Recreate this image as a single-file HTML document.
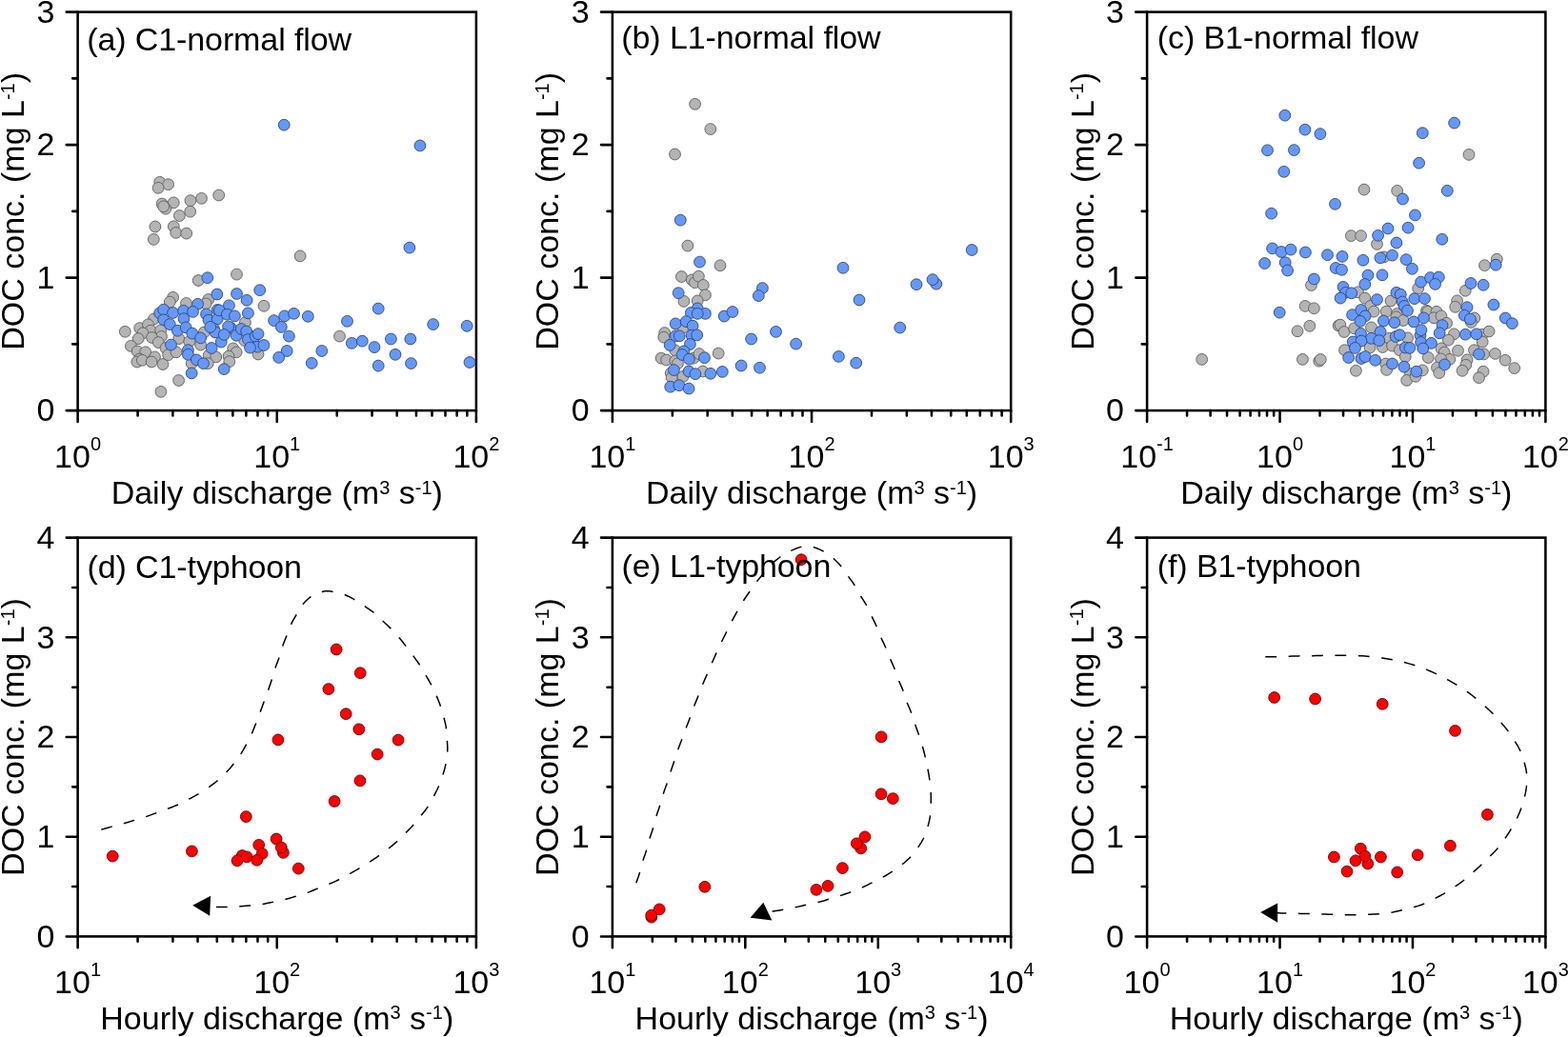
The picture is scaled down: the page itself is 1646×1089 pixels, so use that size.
<!DOCTYPE html>
<html><head><meta charset="utf-8"><title>DOC concentration vs discharge</title>
<style>
html,body{margin:0;padding:0;background:#fff;}
svg{display:block;}
text{font-family:"Liberation Sans",Arial,sans-serif;font-size:34px;fill:#000;}
</style></head><body>
<svg width="1646" height="1089" viewBox="0 0 1646 1089">
<rect width="1646" height="1089" fill="#fff"/>
<rect x="81.6" y="12.6" width="418.3" height="418.5" fill="none" stroke="#000" stroke-width="2.55"/>
<path d="M69.7,431.1H81.6M76.2,361.35H81.6M69.7,291.6H81.6M76.2,221.85H81.6M69.7,152.1H81.6M76.2,82.35H81.6M69.7,12.6H81.6M81.6,431.1V443M144.56,431.1V436.5M181.39,431.1V436.5M207.52,431.1V436.5M227.79,431.1V436.5M244.35,431.1V436.5M258.35,431.1V436.5M270.48,431.1V436.5M281.18,431.1V436.5M290.75,431.1V443M353.71,431.1V436.5M390.54,431.1V436.5M416.67,431.1V436.5M436.94,431.1V436.5M453.5,431.1V436.5M467.5,431.1V436.5M479.63,431.1V436.5M490.33,431.1V436.5M499.9,431.1V443" stroke="#000" stroke-width="2.55" fill="none" stroke-linecap="round"/>
<text x="57.3" y="442.4" text-anchor="end">0</text>
<text x="57.3" y="302.9" text-anchor="end">1</text>
<text x="57.3" y="163.4" text-anchor="end">2</text>
<text x="57.3" y="23.9" text-anchor="end">3</text>
<text x="81.6" y="490.7" text-anchor="middle">10<tspan font-size="20" dy="-17.6">0</tspan></text>
<text x="290.75" y="490.7" text-anchor="middle">10<tspan font-size="20" dy="-17.6">1</tspan></text>
<text x="499.9" y="490.7" text-anchor="middle">10<tspan font-size="20" dy="-17.6">2</tspan></text>
<text x="290.75" y="529.2" text-anchor="middle">Daily discharge (m<tspan font-size="20" dy="-10.6">3</tspan><tspan dy="10.6"> s</tspan><tspan font-size="20" dy="-10.6">-1</tspan><tspan dy="10.6">)</tspan></text>
<text transform="translate(25.1,221.85) rotate(-90)" x="0" y="0" text-anchor="middle">DOC conc. (mg L<tspan font-size="20" dy="-10.6">-1</tspan><tspan dy="10.6">)</tspan></text>
<rect x="642.9" y="12.6" width="418.3" height="418.5" fill="none" stroke="#000" stroke-width="2.55"/>
<path d="M631,431.1H642.9M637.5,361.35H642.9M631,291.6H642.9M637.5,221.85H642.9M631,152.1H642.9M637.5,82.35H642.9M631,12.6H642.9M642.9,431.1V443M705.86,431.1V436.5M742.69,431.1V436.5M768.82,431.1V436.5M789.09,431.1V436.5M805.65,431.1V436.5M819.65,431.1V436.5M831.78,431.1V436.5M842.48,431.1V436.5M852.05,431.1V443M915.01,431.1V436.5M951.84,431.1V436.5M977.97,431.1V436.5M998.24,431.1V436.5M1014.8,431.1V436.5M1028.8,431.1V436.5M1040.93,431.1V436.5M1051.63,431.1V436.5M1061.2,431.1V443" stroke="#000" stroke-width="2.55" fill="none" stroke-linecap="round"/>
<text x="618.6" y="442.4" text-anchor="end">0</text>
<text x="618.6" y="302.9" text-anchor="end">1</text>
<text x="618.6" y="163.4" text-anchor="end">2</text>
<text x="618.6" y="23.9" text-anchor="end">3</text>
<text x="642.9" y="490.7" text-anchor="middle">10<tspan font-size="20" dy="-17.6">1</tspan></text>
<text x="852.05" y="490.7" text-anchor="middle">10<tspan font-size="20" dy="-17.6">2</tspan></text>
<text x="1061.2" y="490.7" text-anchor="middle">10<tspan font-size="20" dy="-17.6">3</tspan></text>
<text x="852.05" y="529.2" text-anchor="middle">Daily discharge (m<tspan font-size="20" dy="-10.6">3</tspan><tspan dy="10.6"> s</tspan><tspan font-size="20" dy="-10.6">-1</tspan><tspan dy="10.6">)</tspan></text>
<text transform="translate(586.4,221.85) rotate(-90)" x="0" y="0" text-anchor="middle">DOC conc. (mg L<tspan font-size="20" dy="-10.6">-1</tspan><tspan dy="10.6">)</tspan></text>
<rect x="1204.1" y="12.6" width="418.3" height="418.5" fill="none" stroke="#000" stroke-width="2.55"/>
<path d="M1192.2,431.1H1204.1M1198.7,361.35H1204.1M1192.2,291.6H1204.1M1198.7,221.85H1204.1M1192.2,152.1H1204.1M1198.7,82.35H1204.1M1192.2,12.6H1204.1M1204.1,431.1V443M1246.07,431.1V436.5M1270.63,431.1V436.5M1288.05,431.1V436.5M1301.56,431.1V436.5M1312.6,431.1V436.5M1321.93,431.1V436.5M1330.02,431.1V436.5M1337.15,431.1V436.5M1343.53,431.1V443M1385.51,431.1V436.5M1410.06,431.1V436.5M1427.48,431.1V436.5M1440.99,431.1V436.5M1452.03,431.1V436.5M1461.37,431.1V436.5M1469.45,431.1V436.5M1476.59,431.1V436.5M1482.97,431.1V443M1524.94,431.1V436.5M1549.49,431.1V436.5M1566.91,431.1V436.5M1580.43,431.1V436.5M1591.47,431.1V436.5M1600.8,431.1V436.5M1608.89,431.1V436.5M1616.02,431.1V436.5M1622.4,431.1V443" stroke="#000" stroke-width="2.55" fill="none" stroke-linecap="round"/>
<text x="1179.8" y="442.4" text-anchor="end">0</text>
<text x="1179.8" y="302.9" text-anchor="end">1</text>
<text x="1179.8" y="163.4" text-anchor="end">2</text>
<text x="1179.8" y="23.9" text-anchor="end">3</text>
<text x="1204.1" y="490.7" text-anchor="middle">10<tspan font-size="20" dy="-17.6">-1</tspan></text>
<text x="1343.53" y="490.7" text-anchor="middle">10<tspan font-size="20" dy="-17.6">0</tspan></text>
<text x="1482.97" y="490.7" text-anchor="middle">10<tspan font-size="20" dy="-17.6">1</tspan></text>
<text x="1622.4" y="490.7" text-anchor="middle">10<tspan font-size="20" dy="-17.6">2</tspan></text>
<text x="1413.25" y="529.2" text-anchor="middle">Daily discharge (m<tspan font-size="20" dy="-10.6">3</tspan><tspan dy="10.6"> s</tspan><tspan font-size="20" dy="-10.6">-1</tspan><tspan dy="10.6">)</tspan></text>
<text transform="translate(1147.6,221.85) rotate(-90)" x="0" y="0" text-anchor="middle">DOC conc. (mg L<tspan font-size="20" dy="-10.6">-1</tspan><tspan dy="10.6">)</tspan></text>
<rect x="81.6" y="564.6" width="418.3" height="418.8" fill="none" stroke="#000" stroke-width="2.55"/>
<path d="M69.7,983.4H81.6M76.2,931.05H81.6M69.7,878.7H81.6M76.2,826.35H81.6M69.7,774H81.6M76.2,721.65H81.6M69.7,669.3H81.6M76.2,616.95H81.6M69.7,564.6H81.6M81.6,983.4V995.3M144.56,983.4V988.8M181.39,983.4V988.8M207.52,983.4V988.8M227.79,983.4V988.8M244.35,983.4V988.8M258.35,983.4V988.8M270.48,983.4V988.8M281.18,983.4V988.8M290.75,983.4V995.3M353.71,983.4V988.8M390.54,983.4V988.8M416.67,983.4V988.8M436.94,983.4V988.8M453.5,983.4V988.8M467.5,983.4V988.8M479.63,983.4V988.8M490.33,983.4V988.8M499.9,983.4V995.3" stroke="#000" stroke-width="2.55" fill="none" stroke-linecap="round"/>
<text x="57.3" y="994.7" text-anchor="end">0</text>
<text x="57.3" y="890" text-anchor="end">1</text>
<text x="57.3" y="785.3" text-anchor="end">2</text>
<text x="57.3" y="680.6" text-anchor="end">3</text>
<text x="57.3" y="575.9" text-anchor="end">4</text>
<text x="81.6" y="1043" text-anchor="middle">10<tspan font-size="20" dy="-17.6">1</tspan></text>
<text x="290.75" y="1043" text-anchor="middle">10<tspan font-size="20" dy="-17.6">2</tspan></text>
<text x="499.9" y="1043" text-anchor="middle">10<tspan font-size="20" dy="-17.6">3</tspan></text>
<text x="290.75" y="1080.8" text-anchor="middle">Hourly discharge (m<tspan font-size="20" dy="-10.6">3</tspan><tspan dy="10.6"> s</tspan><tspan font-size="20" dy="-10.6">-1</tspan><tspan dy="10.6">)</tspan></text>
<text transform="translate(25.1,774) rotate(-90)" x="0" y="0" text-anchor="middle">DOC conc. (mg L<tspan font-size="20" dy="-10.6">-1</tspan><tspan dy="10.6">)</tspan></text>
<rect x="642.9" y="564.6" width="418.3" height="418.8" fill="none" stroke="#000" stroke-width="2.55"/>
<path d="M631,983.4H642.9M637.5,931.05H642.9M631,878.7H642.9M637.5,826.35H642.9M631,774H642.9M637.5,721.65H642.9M631,669.3H642.9M637.5,616.95H642.9M631,564.6H642.9M642.9,983.4V995.3M684.87,983.4V988.8M709.43,983.4V988.8M726.85,983.4V988.8M740.36,983.4V988.8M751.4,983.4V988.8M760.73,983.4V988.8M768.82,983.4V988.8M775.95,983.4V988.8M782.33,983.4V995.3M824.31,983.4V988.8M848.86,983.4V988.8M866.28,983.4V988.8M879.79,983.4V988.8M890.83,983.4V988.8M900.17,983.4V988.8M908.25,983.4V988.8M915.39,983.4V988.8M921.77,983.4V995.3M963.74,983.4V988.8M988.29,983.4V988.8M1005.71,983.4V988.8M1019.23,983.4V988.8M1030.27,983.4V988.8M1039.6,983.4V988.8M1047.69,983.4V988.8M1054.82,983.4V988.8M1061.2,983.4V995.3" stroke="#000" stroke-width="2.55" fill="none" stroke-linecap="round"/>
<text x="618.6" y="994.7" text-anchor="end">0</text>
<text x="618.6" y="890" text-anchor="end">1</text>
<text x="618.6" y="785.3" text-anchor="end">2</text>
<text x="618.6" y="680.6" text-anchor="end">3</text>
<text x="618.6" y="575.9" text-anchor="end">4</text>
<text x="642.9" y="1043" text-anchor="middle">10<tspan font-size="20" dy="-17.6">1</tspan></text>
<text x="782.33" y="1043" text-anchor="middle">10<tspan font-size="20" dy="-17.6">2</tspan></text>
<text x="921.77" y="1043" text-anchor="middle">10<tspan font-size="20" dy="-17.6">3</tspan></text>
<text x="1061.2" y="1043" text-anchor="middle">10<tspan font-size="20" dy="-17.6">4</tspan></text>
<text x="852.05" y="1080.8" text-anchor="middle">Hourly discharge (m<tspan font-size="20" dy="-10.6">3</tspan><tspan dy="10.6"> s</tspan><tspan font-size="20" dy="-10.6">-1</tspan><tspan dy="10.6">)</tspan></text>
<text transform="translate(586.4,774) rotate(-90)" x="0" y="0" text-anchor="middle">DOC conc. (mg L<tspan font-size="20" dy="-10.6">-1</tspan><tspan dy="10.6">)</tspan></text>
<rect x="1204.1" y="564.6" width="418.3" height="418.8" fill="none" stroke="#000" stroke-width="2.55"/>
<path d="M1192.2,983.4H1204.1M1198.7,931.05H1204.1M1192.2,878.7H1204.1M1198.7,826.35H1204.1M1192.2,774H1204.1M1198.7,721.65H1204.1M1192.2,669.3H1204.1M1198.7,616.95H1204.1M1192.2,564.6H1204.1M1204.1,983.4V995.3M1246.07,983.4V988.8M1270.63,983.4V988.8M1288.05,983.4V988.8M1301.56,983.4V988.8M1312.6,983.4V988.8M1321.93,983.4V988.8M1330.02,983.4V988.8M1337.15,983.4V988.8M1343.53,983.4V995.3M1385.51,983.4V988.8M1410.06,983.4V988.8M1427.48,983.4V988.8M1440.99,983.4V988.8M1452.03,983.4V988.8M1461.37,983.4V988.8M1469.45,983.4V988.8M1476.59,983.4V988.8M1482.97,983.4V995.3M1524.94,983.4V988.8M1549.49,983.4V988.8M1566.91,983.4V988.8M1580.43,983.4V988.8M1591.47,983.4V988.8M1600.8,983.4V988.8M1608.89,983.4V988.8M1616.02,983.4V988.8M1622.4,983.4V995.3" stroke="#000" stroke-width="2.55" fill="none" stroke-linecap="round"/>
<text x="1179.8" y="994.7" text-anchor="end">0</text>
<text x="1179.8" y="890" text-anchor="end">1</text>
<text x="1179.8" y="785.3" text-anchor="end">2</text>
<text x="1179.8" y="680.6" text-anchor="end">3</text>
<text x="1179.8" y="575.9" text-anchor="end">4</text>
<text x="1204.1" y="1043" text-anchor="middle">10<tspan font-size="20" dy="-17.6">0</tspan></text>
<text x="1343.53" y="1043" text-anchor="middle">10<tspan font-size="20" dy="-17.6">1</tspan></text>
<text x="1482.97" y="1043" text-anchor="middle">10<tspan font-size="20" dy="-17.6">2</tspan></text>
<text x="1622.4" y="1043" text-anchor="middle">10<tspan font-size="20" dy="-17.6">3</tspan></text>
<text x="1413.25" y="1080.8" text-anchor="middle">Hourly discharge (m<tspan font-size="20" dy="-10.6">3</tspan><tspan dy="10.6"> s</tspan><tspan font-size="20" dy="-10.6">-1</tspan><tspan dy="10.6">)</tspan></text>
<text transform="translate(1147.6,774) rotate(-90)" x="0" y="0" text-anchor="middle">DOC conc. (mg L<tspan font-size="20" dy="-10.6">-1</tspan><tspan dy="10.6">)</tspan></text>
<circle cx="167.7" cy="191.3" r="5.9" fill="#b4b4b4" stroke="#5e5e5e" stroke-width="0.9"/>
<circle cx="176.6" cy="193.7" r="5.9" fill="#b4b4b4" stroke="#5e5e5e" stroke-width="0.9"/>
<circle cx="166.1" cy="197.3" r="5.9" fill="#b4b4b4" stroke="#5e5e5e" stroke-width="0.9"/>
<circle cx="229.7" cy="205" r="5.9" fill="#b4b4b4" stroke="#5e5e5e" stroke-width="0.9"/>
<circle cx="211.5" cy="208.3" r="5.9" fill="#b4b4b4" stroke="#5e5e5e" stroke-width="0.9"/>
<circle cx="199.9" cy="210.7" r="5.9" fill="#b4b4b4" stroke="#5e5e5e" stroke-width="0.9"/>
<circle cx="182.3" cy="212.8" r="5.9" fill="#b4b4b4" stroke="#5e5e5e" stroke-width="0.9"/>
<circle cx="170.1" cy="214" r="5.9" fill="#b4b4b4" stroke="#5e5e5e" stroke-width="0.9"/>
<circle cx="173.8" cy="219.2" r="5.9" fill="#b4b4b4" stroke="#5e5e5e" stroke-width="0.9"/>
<circle cx="171.7" cy="216.8" r="5.9" fill="#b4b4b4" stroke="#5e5e5e" stroke-width="0.9"/>
<circle cx="199.7" cy="222.2" r="5.9" fill="#b4b4b4" stroke="#5e5e5e" stroke-width="0.9"/>
<circle cx="188.4" cy="226.5" r="5.9" fill="#b4b4b4" stroke="#5e5e5e" stroke-width="0.9"/>
<circle cx="162.9" cy="238" r="5.9" fill="#b4b4b4" stroke="#5e5e5e" stroke-width="0.9"/>
<circle cx="182.3" cy="237.8" r="5.9" fill="#b4b4b4" stroke="#5e5e5e" stroke-width="0.9"/>
<circle cx="184.7" cy="244.4" r="5.9" fill="#b4b4b4" stroke="#5e5e5e" stroke-width="0.9"/>
<circle cx="195.7" cy="245.1" r="5.9" fill="#b4b4b4" stroke="#5e5e5e" stroke-width="0.9"/>
<circle cx="161.3" cy="251.4" r="5.9" fill="#b4b4b4" stroke="#5e5e5e" stroke-width="0.9"/>
<circle cx="248.5" cy="288.1" r="5.9" fill="#b4b4b4" stroke="#5e5e5e" stroke-width="0.9"/>
<circle cx="208.2" cy="294.5" r="5.9" fill="#b4b4b4" stroke="#5e5e5e" stroke-width="0.9"/>
<circle cx="315.1" cy="268.9" r="5.9" fill="#b4b4b4" stroke="#5e5e5e" stroke-width="0.9"/>
<circle cx="181.6" cy="312.3" r="5.9" fill="#b4b4b4" stroke="#5e5e5e" stroke-width="0.9"/>
<circle cx="178.3" cy="317.1" r="5.9" fill="#b4b4b4" stroke="#5e5e5e" stroke-width="0.9"/>
<circle cx="195.5" cy="318.5" r="5.9" fill="#b4b4b4" stroke="#5e5e5e" stroke-width="0.9"/>
<circle cx="218.7" cy="314.5" r="5.9" fill="#b4b4b4" stroke="#5e5e5e" stroke-width="0.9"/>
<circle cx="216.1" cy="318.9" r="5.9" fill="#b4b4b4" stroke="#5e5e5e" stroke-width="0.9"/>
<circle cx="161.4" cy="335.1" r="5.9" fill="#b4b4b4" stroke="#5e5e5e" stroke-width="0.9"/>
<circle cx="131.3" cy="348.3" r="5.9" fill="#b4b4b4" stroke="#5e5e5e" stroke-width="0.9"/>
<circle cx="146.7" cy="344.6" r="5.9" fill="#b4b4b4" stroke="#5e5e5e" stroke-width="0.9"/>
<circle cx="155.5" cy="340.9" r="5.9" fill="#b4b4b4" stroke="#5e5e5e" stroke-width="0.9"/>
<circle cx="158.1" cy="347.2" r="5.9" fill="#b4b4b4" stroke="#5e5e5e" stroke-width="0.9"/>
<circle cx="168.7" cy="346.8" r="5.9" fill="#b4b4b4" stroke="#5e5e5e" stroke-width="0.9"/>
<circle cx="150" cy="349.8" r="5.9" fill="#b4b4b4" stroke="#5e5e5e" stroke-width="0.9"/>
<circle cx="145.2" cy="355.6" r="5.9" fill="#b4b4b4" stroke="#5e5e5e" stroke-width="0.9"/>
<circle cx="169.5" cy="353.4" r="5.9" fill="#b4b4b4" stroke="#5e5e5e" stroke-width="0.9"/>
<circle cx="214.3" cy="349" r="5.9" fill="#b4b4b4" stroke="#5e5e5e" stroke-width="0.9"/>
<circle cx="187.8" cy="355.6" r="5.9" fill="#b4b4b4" stroke="#5e5e5e" stroke-width="0.9"/>
<circle cx="137.4" cy="363.4" r="5.9" fill="#b4b4b4" stroke="#5e5e5e" stroke-width="0.9"/>
<circle cx="144.2" cy="368.9" r="5.9" fill="#b4b4b4" stroke="#5e5e5e" stroke-width="0.9"/>
<circle cx="152.7" cy="369.8" r="5.9" fill="#b4b4b4" stroke="#5e5e5e" stroke-width="0.9"/>
<circle cx="146.4" cy="377" r="5.9" fill="#b4b4b4" stroke="#5e5e5e" stroke-width="0.9"/>
<circle cx="143.8" cy="380" r="5.9" fill="#b4b4b4" stroke="#5e5e5e" stroke-width="0.9"/>
<circle cx="149.3" cy="378.3" r="5.9" fill="#b4b4b4" stroke="#5e5e5e" stroke-width="0.9"/>
<circle cx="162.5" cy="374.9" r="5.9" fill="#b4b4b4" stroke="#5e5e5e" stroke-width="0.9"/>
<circle cx="159.1" cy="380" r="5.9" fill="#b4b4b4" stroke="#5e5e5e" stroke-width="0.9"/>
<circle cx="171" cy="382.5" r="5.9" fill="#b4b4b4" stroke="#5e5e5e" stroke-width="0.9"/>
<circle cx="159.5" cy="354.5" r="5.9" fill="#b4b4b4" stroke="#5e5e5e" stroke-width="0.9"/>
<circle cx="166.3" cy="359.6" r="5.9" fill="#b4b4b4" stroke="#5e5e5e" stroke-width="0.9"/>
<circle cx="174" cy="365.5" r="5.9" fill="#b4b4b4" stroke="#5e5e5e" stroke-width="0.9"/>
<circle cx="176.6" cy="372.7" r="5.9" fill="#b4b4b4" stroke="#5e5e5e" stroke-width="0.9"/>
<circle cx="185" cy="369.8" r="5.9" fill="#b4b4b4" stroke="#5e5e5e" stroke-width="0.9"/>
<circle cx="198.7" cy="358.7" r="5.9" fill="#b4b4b4" stroke="#5e5e5e" stroke-width="0.9"/>
<circle cx="210.6" cy="362.1" r="5.9" fill="#b4b4b4" stroke="#5e5e5e" stroke-width="0.9"/>
<circle cx="219.1" cy="373.2" r="5.9" fill="#b4b4b4" stroke="#5e5e5e" stroke-width="0.9"/>
<circle cx="226.7" cy="374.9" r="5.9" fill="#b4b4b4" stroke="#5e5e5e" stroke-width="0.9"/>
<circle cx="218.2" cy="381.7" r="5.9" fill="#b4b4b4" stroke="#5e5e5e" stroke-width="0.9"/>
<circle cx="201.2" cy="381.7" r="5.9" fill="#b4b4b4" stroke="#5e5e5e" stroke-width="0.9"/>
<circle cx="187.6" cy="399.5" r="5.9" fill="#b4b4b4" stroke="#5e5e5e" stroke-width="0.9"/>
<circle cx="168.9" cy="411.4" r="5.9" fill="#b4b4b4" stroke="#5e5e5e" stroke-width="0.9"/>
<circle cx="277" cy="321.3" r="5.9" fill="#b4b4b4" stroke="#5e5e5e" stroke-width="0.9"/>
<circle cx="257.4" cy="338.7" r="5.9" fill="#b4b4b4" stroke="#5e5e5e" stroke-width="0.9"/>
<circle cx="244.7" cy="365.9" r="5.9" fill="#b4b4b4" stroke="#5e5e5e" stroke-width="0.9"/>
<circle cx="256.6" cy="357.4" r="5.9" fill="#b4b4b4" stroke="#5e5e5e" stroke-width="0.9"/>
<circle cx="356.5" cy="353.1" r="5.9" fill="#b4b4b4" stroke="#5e5e5e" stroke-width="0.9"/>
<circle cx="248.1" cy="369.9" r="5.9" fill="#b4b4b4" stroke="#5e5e5e" stroke-width="0.9"/>
<circle cx="240" cy="374.1" r="5.9" fill="#b4b4b4" stroke="#5e5e5e" stroke-width="0.9"/>
<circle cx="240.8" cy="379.7" r="5.9" fill="#b4b4b4" stroke="#5e5e5e" stroke-width="0.9"/>
<circle cx="271" cy="372" r="5.9" fill="#b4b4b4" stroke="#5e5e5e" stroke-width="0.9"/>
<circle cx="217.8" cy="291.7" r="5.9" fill="#6498fc" stroke="#34466e" stroke-width="0.9"/>
<circle cx="227.8" cy="309" r="5.9" fill="#6498fc" stroke="#34466e" stroke-width="0.9"/>
<circle cx="207.6" cy="319.3" r="5.9" fill="#6498fc" stroke="#34466e" stroke-width="0.9"/>
<circle cx="167.6" cy="328.8" r="5.9" fill="#6498fc" stroke="#34466e" stroke-width="0.9"/>
<circle cx="171.7" cy="325.2" r="5.9" fill="#6498fc" stroke="#34466e" stroke-width="0.9"/>
<circle cx="181.6" cy="328.5" r="5.9" fill="#6498fc" stroke="#34466e" stroke-width="0.9"/>
<circle cx="192.6" cy="326.3" r="5.9" fill="#6498fc" stroke="#34466e" stroke-width="0.9"/>
<circle cx="202.5" cy="327.4" r="5.9" fill="#6498fc" stroke="#34466e" stroke-width="0.9"/>
<circle cx="193" cy="334.7" r="5.9" fill="#6498fc" stroke="#34466e" stroke-width="0.9"/>
<circle cx="216.5" cy="329.9" r="5.9" fill="#6498fc" stroke="#34466e" stroke-width="0.9"/>
<circle cx="219" cy="336.2" r="5.9" fill="#6498fc" stroke="#34466e" stroke-width="0.9"/>
<circle cx="228.2" cy="325.5" r="5.9" fill="#6498fc" stroke="#34466e" stroke-width="0.9"/>
<circle cx="228.2" cy="335.1" r="5.9" fill="#6498fc" stroke="#34466e" stroke-width="0.9"/>
<circle cx="171.7" cy="335.8" r="5.9" fill="#6498fc" stroke="#34466e" stroke-width="0.9"/>
<circle cx="178.3" cy="340.6" r="5.9" fill="#6498fc" stroke="#34466e" stroke-width="0.9"/>
<circle cx="186.4" cy="347.2" r="5.9" fill="#6498fc" stroke="#34466e" stroke-width="0.9"/>
<circle cx="195.2" cy="343.9" r="5.9" fill="#6498fc" stroke="#34466e" stroke-width="0.9"/>
<circle cx="201.8" cy="350.1" r="5.9" fill="#6498fc" stroke="#34466e" stroke-width="0.9"/>
<circle cx="210.6" cy="354.9" r="5.9" fill="#6498fc" stroke="#34466e" stroke-width="0.9"/>
<circle cx="224.5" cy="345.3" r="5.9" fill="#6498fc" stroke="#34466e" stroke-width="0.9"/>
<circle cx="226" cy="349" r="5.9" fill="#6498fc" stroke="#34466e" stroke-width="0.9"/>
<circle cx="179.5" cy="362.1" r="5.9" fill="#6498fc" stroke="#34466e" stroke-width="0.9"/>
<circle cx="197.4" cy="367.6" r="5.9" fill="#6498fc" stroke="#34466e" stroke-width="0.9"/>
<circle cx="197.4" cy="372.3" r="5.9" fill="#6498fc" stroke="#34466e" stroke-width="0.9"/>
<circle cx="206.3" cy="377.9" r="5.9" fill="#6498fc" stroke="#34466e" stroke-width="0.9"/>
<circle cx="213.5" cy="381.7" r="5.9" fill="#6498fc" stroke="#34466e" stroke-width="0.9"/>
<circle cx="201.2" cy="391.9" r="5.9" fill="#6498fc" stroke="#34466e" stroke-width="0.9"/>
<circle cx="222.1" cy="365.5" r="5.9" fill="#6498fc" stroke="#34466e" stroke-width="0.9"/>
<circle cx="232.3" cy="359.1" r="5.9" fill="#6498fc" stroke="#34466e" stroke-width="0.9"/>
<circle cx="235.2" cy="387.6" r="5.9" fill="#6498fc" stroke="#34466e" stroke-width="0.9"/>
<circle cx="220.8" cy="343.4" r="5.9" fill="#6498fc" stroke="#34466e" stroke-width="0.9"/>
<circle cx="298.2" cy="131.2" r="5.9" fill="#6498fc" stroke="#34466e" stroke-width="0.9"/>
<circle cx="440.9" cy="152.9" r="5.9" fill="#6498fc" stroke="#34466e" stroke-width="0.9"/>
<circle cx="429.9" cy="260.1" r="5.9" fill="#6498fc" stroke="#34466e" stroke-width="0.9"/>
<circle cx="248.5" cy="308.5" r="5.9" fill="#6498fc" stroke="#34466e" stroke-width="0.9"/>
<circle cx="272.7" cy="304.7" r="5.9" fill="#6498fc" stroke="#34466e" stroke-width="0.9"/>
<circle cx="259.1" cy="315.3" r="5.9" fill="#6498fc" stroke="#34466e" stroke-width="0.9"/>
<circle cx="240.4" cy="320.8" r="5.9" fill="#6498fc" stroke="#34466e" stroke-width="0.9"/>
<circle cx="230.2" cy="325.9" r="5.9" fill="#6498fc" stroke="#34466e" stroke-width="0.9"/>
<circle cx="238.3" cy="330.2" r="5.9" fill="#6498fc" stroke="#34466e" stroke-width="0.9"/>
<circle cx="246.4" cy="331.9" r="5.9" fill="#6498fc" stroke="#34466e" stroke-width="0.9"/>
<circle cx="260.4" cy="328.9" r="5.9" fill="#6498fc" stroke="#34466e" stroke-width="0.9"/>
<circle cx="242.1" cy="344.2" r="5.9" fill="#6498fc" stroke="#34466e" stroke-width="0.9"/>
<circle cx="239.6" cy="342.9" r="5.9" fill="#6498fc" stroke="#34466e" stroke-width="0.9"/>
<circle cx="235.3" cy="351.4" r="5.9" fill="#6498fc" stroke="#34466e" stroke-width="0.9"/>
<circle cx="248.1" cy="352.3" r="5.9" fill="#6498fc" stroke="#34466e" stroke-width="0.9"/>
<circle cx="253.2" cy="345.5" r="5.9" fill="#6498fc" stroke="#34466e" stroke-width="0.9"/>
<circle cx="258.7" cy="348" r="5.9" fill="#6498fc" stroke="#34466e" stroke-width="0.9"/>
<circle cx="260.4" cy="356.5" r="5.9" fill="#6498fc" stroke="#34466e" stroke-width="0.9"/>
<circle cx="268.1" cy="353.1" r="5.9" fill="#6498fc" stroke="#34466e" stroke-width="0.9"/>
<circle cx="271" cy="350.6" r="5.9" fill="#6498fc" stroke="#34466e" stroke-width="0.9"/>
<circle cx="270.2" cy="364.2" r="5.9" fill="#6498fc" stroke="#34466e" stroke-width="0.9"/>
<circle cx="277" cy="362.5" r="5.9" fill="#6498fc" stroke="#34466e" stroke-width="0.9"/>
<circle cx="262.5" cy="365.1" r="5.9" fill="#6498fc" stroke="#34466e" stroke-width="0.9"/>
<circle cx="287.6" cy="336.6" r="5.9" fill="#6498fc" stroke="#34466e" stroke-width="0.9"/>
<circle cx="298.7" cy="331.9" r="5.9" fill="#6498fc" stroke="#34466e" stroke-width="0.9"/>
<circle cx="308.5" cy="329.3" r="5.9" fill="#6498fc" stroke="#34466e" stroke-width="0.9"/>
<circle cx="323.3" cy="332.3" r="5.9" fill="#6498fc" stroke="#34466e" stroke-width="0.9"/>
<circle cx="295.3" cy="343.4" r="5.9" fill="#6498fc" stroke="#34466e" stroke-width="0.9"/>
<circle cx="303.4" cy="353.1" r="5.9" fill="#6498fc" stroke="#34466e" stroke-width="0.9"/>
<circle cx="301.2" cy="368.5" r="5.9" fill="#6498fc" stroke="#34466e" stroke-width="0.9"/>
<circle cx="337.8" cy="368.5" r="5.9" fill="#6498fc" stroke="#34466e" stroke-width="0.9"/>
<circle cx="292.7" cy="375.4" r="5.9" fill="#6498fc" stroke="#34466e" stroke-width="0.9"/>
<circle cx="327.2" cy="381.4" r="5.9" fill="#6498fc" stroke="#34466e" stroke-width="0.9"/>
<circle cx="397.2" cy="324.1" r="5.9" fill="#6498fc" stroke="#34466e" stroke-width="0.9"/>
<circle cx="364.5" cy="337.3" r="5.9" fill="#6498fc" stroke="#34466e" stroke-width="0.9"/>
<circle cx="369.3" cy="360.4" r="5.9" fill="#6498fc" stroke="#34466e" stroke-width="0.9"/>
<circle cx="380.3" cy="358.2" r="5.9" fill="#6498fc" stroke="#34466e" stroke-width="0.9"/>
<circle cx="393" cy="364.6" r="5.9" fill="#6498fc" stroke="#34466e" stroke-width="0.9"/>
<circle cx="410.4" cy="356" r="5.9" fill="#6498fc" stroke="#34466e" stroke-width="0.9"/>
<circle cx="430.8" cy="356" r="5.9" fill="#6498fc" stroke="#34466e" stroke-width="0.9"/>
<circle cx="415" cy="372.3" r="5.9" fill="#6498fc" stroke="#34466e" stroke-width="0.9"/>
<circle cx="397.2" cy="384.1" r="5.9" fill="#6498fc" stroke="#34466e" stroke-width="0.9"/>
<circle cx="431.5" cy="381.6" r="5.9" fill="#6498fc" stroke="#34466e" stroke-width="0.9"/>
<circle cx="454.7" cy="340.6" r="5.9" fill="#6498fc" stroke="#34466e" stroke-width="0.9"/>
<circle cx="490.2" cy="342.3" r="5.9" fill="#6498fc" stroke="#34466e" stroke-width="0.9"/>
<circle cx="493" cy="380.5" r="5.9" fill="#6498fc" stroke="#34466e" stroke-width="0.9"/>
<circle cx="729.6" cy="109.3" r="5.9" fill="#b4b4b4" stroke="#5e5e5e" stroke-width="0.9"/>
<circle cx="745.8" cy="135.6" r="5.9" fill="#b4b4b4" stroke="#5e5e5e" stroke-width="0.9"/>
<circle cx="708.5" cy="162" r="5.9" fill="#b4b4b4" stroke="#5e5e5e" stroke-width="0.9"/>
<circle cx="721.9" cy="258.1" r="5.9" fill="#b4b4b4" stroke="#5e5e5e" stroke-width="0.9"/>
<circle cx="756" cy="278.8" r="5.9" fill="#b4b4b4" stroke="#5e5e5e" stroke-width="0.9"/>
<circle cx="715.4" cy="290.5" r="5.9" fill="#b4b4b4" stroke="#5e5e5e" stroke-width="0.9"/>
<circle cx="726.2" cy="293.9" r="5.9" fill="#b4b4b4" stroke="#5e5e5e" stroke-width="0.9"/>
<circle cx="729.4" cy="296.7" r="5.9" fill="#b4b4b4" stroke="#5e5e5e" stroke-width="0.9"/>
<circle cx="733.4" cy="290.2" r="5.9" fill="#b4b4b4" stroke="#5e5e5e" stroke-width="0.9"/>
<circle cx="738.3" cy="299.4" r="5.9" fill="#b4b4b4" stroke="#5e5e5e" stroke-width="0.9"/>
<circle cx="740.4" cy="309.8" r="5.9" fill="#b4b4b4" stroke="#5e5e5e" stroke-width="0.9"/>
<circle cx="717.9" cy="316.4" r="5.9" fill="#b4b4b4" stroke="#5e5e5e" stroke-width="0.9"/>
<circle cx="732.2" cy="315.9" r="5.9" fill="#b4b4b4" stroke="#5e5e5e" stroke-width="0.9"/>
<circle cx="717" cy="344.1" r="5.9" fill="#b4b4b4" stroke="#5e5e5e" stroke-width="0.9"/>
<circle cx="697.7" cy="349.6" r="5.9" fill="#b4b4b4" stroke="#5e5e5e" stroke-width="0.9"/>
<circle cx="696.8" cy="354.2" r="5.9" fill="#b4b4b4" stroke="#5e5e5e" stroke-width="0.9"/>
<circle cx="708.8" cy="367.9" r="5.9" fill="#b4b4b4" stroke="#5e5e5e" stroke-width="0.9"/>
<circle cx="728" cy="376.2" r="5.9" fill="#b4b4b4" stroke="#5e5e5e" stroke-width="0.9"/>
<circle cx="734" cy="371.6" r="5.9" fill="#b4b4b4" stroke="#5e5e5e" stroke-width="0.9"/>
<circle cx="694.1" cy="376.2" r="5.9" fill="#b4b4b4" stroke="#5e5e5e" stroke-width="0.9"/>
<circle cx="699.6" cy="378" r="5.9" fill="#b4b4b4" stroke="#5e5e5e" stroke-width="0.9"/>
<circle cx="708.8" cy="378.9" r="5.9" fill="#b4b4b4" stroke="#5e5e5e" stroke-width="0.9"/>
<circle cx="711.5" cy="381.7" r="5.9" fill="#b4b4b4" stroke="#5e5e5e" stroke-width="0.9"/>
<circle cx="754.2" cy="371.1" r="5.9" fill="#b4b4b4" stroke="#5e5e5e" stroke-width="0.9"/>
<circle cx="704.2" cy="391.8" r="5.9" fill="#b4b4b4" stroke="#5e5e5e" stroke-width="0.9"/>
<circle cx="737.7" cy="390" r="5.9" fill="#b4b4b4" stroke="#5e5e5e" stroke-width="0.9"/>
<circle cx="717" cy="395.5" r="5.9" fill="#b4b4b4" stroke="#5e5e5e" stroke-width="0.9"/>
<circle cx="705.1" cy="396.5" r="5.9" fill="#b4b4b4" stroke="#5e5e5e" stroke-width="0.9"/>
<circle cx="714.3" cy="231.2" r="5.9" fill="#6498fc" stroke="#34466e" stroke-width="0.9"/>
<circle cx="734.5" cy="275.1" r="5.9" fill="#6498fc" stroke="#34466e" stroke-width="0.9"/>
<circle cx="712.2" cy="307.7" r="5.9" fill="#6498fc" stroke="#34466e" stroke-width="0.9"/>
<circle cx="732.2" cy="323.9" r="5.9" fill="#6498fc" stroke="#34466e" stroke-width="0.9"/>
<circle cx="740.4" cy="329.4" r="5.9" fill="#6498fc" stroke="#34466e" stroke-width="0.9"/>
<circle cx="725.3" cy="328.5" r="5.9" fill="#6498fc" stroke="#34466e" stroke-width="0.9"/>
<circle cx="732.2" cy="329.4" r="5.9" fill="#6498fc" stroke="#34466e" stroke-width="0.9"/>
<circle cx="709.2" cy="339.9" r="5.9" fill="#6498fc" stroke="#34466e" stroke-width="0.9"/>
<circle cx="720.2" cy="337.6" r="5.9" fill="#6498fc" stroke="#34466e" stroke-width="0.9"/>
<circle cx="727.1" cy="342.2" r="5.9" fill="#6498fc" stroke="#34466e" stroke-width="0.9"/>
<circle cx="709.2" cy="352.8" r="5.9" fill="#6498fc" stroke="#34466e" stroke-width="0.9"/>
<circle cx="713.3" cy="352.8" r="5.9" fill="#6498fc" stroke="#34466e" stroke-width="0.9"/>
<circle cx="726.2" cy="352.3" r="5.9" fill="#6498fc" stroke="#34466e" stroke-width="0.9"/>
<circle cx="731.7" cy="351.9" r="5.9" fill="#6498fc" stroke="#34466e" stroke-width="0.9"/>
<circle cx="703.2" cy="362.4" r="5.9" fill="#6498fc" stroke="#34466e" stroke-width="0.9"/>
<circle cx="724.4" cy="361.5" r="5.9" fill="#6498fc" stroke="#34466e" stroke-width="0.9"/>
<circle cx="717.9" cy="368.9" r="5.9" fill="#6498fc" stroke="#34466e" stroke-width="0.9"/>
<circle cx="716.1" cy="372.5" r="5.9" fill="#6498fc" stroke="#34466e" stroke-width="0.9"/>
<circle cx="723.4" cy="377.1" r="5.9" fill="#6498fc" stroke="#34466e" stroke-width="0.9"/>
<circle cx="739.5" cy="375.7" r="5.9" fill="#6498fc" stroke="#34466e" stroke-width="0.9"/>
<circle cx="760.2" cy="332.1" r="5.9" fill="#6498fc" stroke="#34466e" stroke-width="0.9"/>
<circle cx="768.9" cy="327.5" r="5.9" fill="#6498fc" stroke="#34466e" stroke-width="0.9"/>
<circle cx="788.6" cy="356" r="5.9" fill="#6498fc" stroke="#34466e" stroke-width="0.9"/>
<circle cx="778.1" cy="384" r="5.9" fill="#6498fc" stroke="#34466e" stroke-width="0.9"/>
<circle cx="707.4" cy="388.6" r="5.9" fill="#6498fc" stroke="#34466e" stroke-width="0.9"/>
<circle cx="723" cy="390" r="5.9" fill="#6498fc" stroke="#34466e" stroke-width="0.9"/>
<circle cx="729.9" cy="392.7" r="5.9" fill="#6498fc" stroke="#34466e" stroke-width="0.9"/>
<circle cx="745.9" cy="392.3" r="5.9" fill="#6498fc" stroke="#34466e" stroke-width="0.9"/>
<circle cx="758.3" cy="390.4" r="5.9" fill="#6498fc" stroke="#34466e" stroke-width="0.9"/>
<circle cx="797.5" cy="386.2" r="5.9" fill="#6498fc" stroke="#34466e" stroke-width="0.9"/>
<circle cx="703.7" cy="406.2" r="5.9" fill="#6498fc" stroke="#34466e" stroke-width="0.9"/>
<circle cx="712.9" cy="404.7" r="5.9" fill="#6498fc" stroke="#34466e" stroke-width="0.9"/>
<circle cx="723.1" cy="408.1" r="5.9" fill="#6498fc" stroke="#34466e" stroke-width="0.9"/>
<circle cx="1020.2" cy="262.5" r="5.9" fill="#6498fc" stroke="#34466e" stroke-width="0.9"/>
<circle cx="885" cy="281.3" r="5.9" fill="#6498fc" stroke="#34466e" stroke-width="0.9"/>
<circle cx="800.4" cy="302.6" r="5.9" fill="#6498fc" stroke="#34466e" stroke-width="0.9"/>
<circle cx="796.3" cy="310.6" r="5.9" fill="#6498fc" stroke="#34466e" stroke-width="0.9"/>
<circle cx="902" cy="315" r="5.9" fill="#6498fc" stroke="#34466e" stroke-width="0.9"/>
<circle cx="962" cy="298.7" r="5.9" fill="#6498fc" stroke="#34466e" stroke-width="0.9"/>
<circle cx="982.8" cy="298.2" r="5.9" fill="#6498fc" stroke="#34466e" stroke-width="0.9"/>
<circle cx="979" cy="293.6" r="5.9" fill="#6498fc" stroke="#34466e" stroke-width="0.9"/>
<circle cx="944.7" cy="344.1" r="5.9" fill="#6498fc" stroke="#34466e" stroke-width="0.9"/>
<circle cx="814.5" cy="348.4" r="5.9" fill="#6498fc" stroke="#34466e" stroke-width="0.9"/>
<circle cx="835.6" cy="361.1" r="5.9" fill="#6498fc" stroke="#34466e" stroke-width="0.9"/>
<circle cx="880.4" cy="374.4" r="5.9" fill="#6498fc" stroke="#34466e" stroke-width="0.9"/>
<circle cx="898.7" cy="381.2" r="5.9" fill="#6498fc" stroke="#34466e" stroke-width="0.9"/>
<circle cx="1542" cy="162.4" r="5.9" fill="#b4b4b4" stroke="#5e5e5e" stroke-width="0.9"/>
<circle cx="1431.9" cy="199.1" r="5.9" fill="#b4b4b4" stroke="#5e5e5e" stroke-width="0.9"/>
<circle cx="1466.7" cy="200.3" r="5.9" fill="#b4b4b4" stroke="#5e5e5e" stroke-width="0.9"/>
<circle cx="1418.3" cy="247.6" r="5.9" fill="#b4b4b4" stroke="#5e5e5e" stroke-width="0.9"/>
<circle cx="1428.6" cy="247.6" r="5.9" fill="#b4b4b4" stroke="#5e5e5e" stroke-width="0.9"/>
<circle cx="1445.5" cy="256.4" r="5.9" fill="#b4b4b4" stroke="#5e5e5e" stroke-width="0.9"/>
<circle cx="1452.8" cy="269.9" r="5.9" fill="#b4b4b4" stroke="#5e5e5e" stroke-width="0.9"/>
<circle cx="1376.5" cy="299.5" r="5.9" fill="#b4b4b4" stroke="#5e5e5e" stroke-width="0.9"/>
<circle cx="1425.5" cy="306.8" r="5.9" fill="#b4b4b4" stroke="#5e5e5e" stroke-width="0.9"/>
<circle cx="1432.8" cy="313.1" r="5.9" fill="#b4b4b4" stroke="#5e5e5e" stroke-width="0.9"/>
<circle cx="1460" cy="316" r="5.9" fill="#b4b4b4" stroke="#5e5e5e" stroke-width="0.9"/>
<circle cx="1488.7" cy="302.9" r="5.9" fill="#b4b4b4" stroke="#5e5e5e" stroke-width="0.9"/>
<circle cx="1370.1" cy="321.4" r="5.9" fill="#b4b4b4" stroke="#5e5e5e" stroke-width="0.9"/>
<circle cx="1379.4" cy="323.8" r="5.9" fill="#b4b4b4" stroke="#5e5e5e" stroke-width="0.9"/>
<circle cx="1438.7" cy="321.4" r="5.9" fill="#b4b4b4" stroke="#5e5e5e" stroke-width="0.9"/>
<circle cx="1442.1" cy="327.2" r="5.9" fill="#b4b4b4" stroke="#5e5e5e" stroke-width="0.9"/>
<circle cx="1455.2" cy="327.2" r="5.9" fill="#b4b4b4" stroke="#5e5e5e" stroke-width="0.9"/>
<circle cx="1466.4" cy="329.6" r="5.9" fill="#b4b4b4" stroke="#5e5e5e" stroke-width="0.9"/>
<circle cx="1497.5" cy="326.2" r="5.9" fill="#b4b4b4" stroke="#5e5e5e" stroke-width="0.9"/>
<circle cx="1571.3" cy="272.2" r="5.9" fill="#b4b4b4" stroke="#5e5e5e" stroke-width="0.9"/>
<circle cx="1558.5" cy="278.7" r="5.9" fill="#b4b4b4" stroke="#5e5e5e" stroke-width="0.9"/>
<circle cx="1538.3" cy="305.3" r="5.9" fill="#b4b4b4" stroke="#5e5e5e" stroke-width="0.9"/>
<circle cx="1529.6" cy="315.8" r="5.9" fill="#b4b4b4" stroke="#5e5e5e" stroke-width="0.9"/>
<circle cx="1527.7" cy="322.3" r="5.9" fill="#b4b4b4" stroke="#5e5e5e" stroke-width="0.9"/>
<circle cx="1498.8" cy="327.3" r="5.9" fill="#b4b4b4" stroke="#5e5e5e" stroke-width="0.9"/>
<circle cx="1508" cy="327.3" r="5.9" fill="#b4b4b4" stroke="#5e5e5e" stroke-width="0.9"/>
<circle cx="1547.8" cy="334" r="5.9" fill="#b4b4b4" stroke="#5e5e5e" stroke-width="0.9"/>
<circle cx="1261.7" cy="377.4" r="5.9" fill="#b4b4b4" stroke="#5e5e5e" stroke-width="0.9"/>
<circle cx="1362" cy="347.8" r="5.9" fill="#b4b4b4" stroke="#5e5e5e" stroke-width="0.9"/>
<circle cx="1374.8" cy="342.3" r="5.9" fill="#b4b4b4" stroke="#5e5e5e" stroke-width="0.9"/>
<circle cx="1367.4" cy="377.4" r="5.9" fill="#b4b4b4" stroke="#5e5e5e" stroke-width="0.9"/>
<circle cx="1384.7" cy="379.2" r="5.9" fill="#b4b4b4" stroke="#5e5e5e" stroke-width="0.9"/>
<circle cx="1386.3" cy="377.5" r="5.9" fill="#b4b4b4" stroke="#5e5e5e" stroke-width="0.9"/>
<circle cx="1405.1" cy="342" r="5.9" fill="#b4b4b4" stroke="#5e5e5e" stroke-width="0.9"/>
<circle cx="1406.9" cy="341.1" r="5.9" fill="#b4b4b4" stroke="#5e5e5e" stroke-width="0.9"/>
<circle cx="1411" cy="348.5" r="5.9" fill="#b4b4b4" stroke="#5e5e5e" stroke-width="0.9"/>
<circle cx="1421.6" cy="344.8" r="5.9" fill="#b4b4b4" stroke="#5e5e5e" stroke-width="0.9"/>
<circle cx="1411.5" cy="367.7" r="5.9" fill="#b4b4b4" stroke="#5e5e5e" stroke-width="0.9"/>
<circle cx="1423.4" cy="389.3" r="5.9" fill="#b4b4b4" stroke="#5e5e5e" stroke-width="0.9"/>
<circle cx="1465.7" cy="332.9" r="5.9" fill="#b4b4b4" stroke="#5e5e5e" stroke-width="0.9"/>
<circle cx="1473" cy="336.5" r="5.9" fill="#b4b4b4" stroke="#5e5e5e" stroke-width="0.9"/>
<circle cx="1439.5" cy="343.9" r="5.9" fill="#b4b4b4" stroke="#5e5e5e" stroke-width="0.9"/>
<circle cx="1438.1" cy="365" r="5.9" fill="#b4b4b4" stroke="#5e5e5e" stroke-width="0.9"/>
<circle cx="1451.4" cy="364.5" r="5.9" fill="#b4b4b4" stroke="#5e5e5e" stroke-width="0.9"/>
<circle cx="1458.3" cy="355.3" r="5.9" fill="#b4b4b4" stroke="#5e5e5e" stroke-width="0.9"/>
<circle cx="1461.5" cy="363.1" r="5.9" fill="#b4b4b4" stroke="#5e5e5e" stroke-width="0.9"/>
<circle cx="1477.6" cy="354.9" r="5.9" fill="#b4b4b4" stroke="#5e5e5e" stroke-width="0.9"/>
<circle cx="1469.3" cy="367.7" r="5.9" fill="#b4b4b4" stroke="#5e5e5e" stroke-width="0.9"/>
<circle cx="1475.3" cy="374.6" r="5.9" fill="#b4b4b4" stroke="#5e5e5e" stroke-width="0.9"/>
<circle cx="1454.7" cy="382" r="5.9" fill="#b4b4b4" stroke="#5e5e5e" stroke-width="0.9"/>
<circle cx="1455.6" cy="388.4" r="5.9" fill="#b4b4b4" stroke="#5e5e5e" stroke-width="0.9"/>
<circle cx="1480.4" cy="392.5" r="5.9" fill="#b4b4b4" stroke="#5e5e5e" stroke-width="0.9"/>
<circle cx="1476.7" cy="399.4" r="5.9" fill="#b4b4b4" stroke="#5e5e5e" stroke-width="0.9"/>
<circle cx="1544.3" cy="338.4" r="5.9" fill="#b4b4b4" stroke="#5e5e5e" stroke-width="0.9"/>
<circle cx="1505.2" cy="333.8" r="5.9" fill="#b4b4b4" stroke="#5e5e5e" stroke-width="0.9"/>
<circle cx="1513" cy="331.9" r="5.9" fill="#b4b4b4" stroke="#5e5e5e" stroke-width="0.9"/>
<circle cx="1518.6" cy="339.3" r="5.9" fill="#b4b4b4" stroke="#5e5e5e" stroke-width="0.9"/>
<circle cx="1526.4" cy="350.8" r="5.9" fill="#b4b4b4" stroke="#5e5e5e" stroke-width="0.9"/>
<circle cx="1520.4" cy="357.2" r="5.9" fill="#b4b4b4" stroke="#5e5e5e" stroke-width="0.9"/>
<circle cx="1556.2" cy="351.2" r="5.9" fill="#b4b4b4" stroke="#5e5e5e" stroke-width="0.9"/>
<circle cx="1563.1" cy="348" r="5.9" fill="#b4b4b4" stroke="#5e5e5e" stroke-width="0.9"/>
<circle cx="1556.2" cy="359" r="5.9" fill="#b4b4b4" stroke="#5e5e5e" stroke-width="0.9"/>
<circle cx="1513" cy="365.9" r="5.9" fill="#b4b4b4" stroke="#5e5e5e" stroke-width="0.9"/>
<circle cx="1516.3" cy="370" r="5.9" fill="#b4b4b4" stroke="#5e5e5e" stroke-width="0.9"/>
<circle cx="1530.5" cy="368.2" r="5.9" fill="#b4b4b4" stroke="#5e5e5e" stroke-width="0.9"/>
<circle cx="1547.5" cy="367.7" r="5.9" fill="#b4b4b4" stroke="#5e5e5e" stroke-width="0.9"/>
<circle cx="1557.6" cy="371.9" r="5.9" fill="#b4b4b4" stroke="#5e5e5e" stroke-width="0.9"/>
<circle cx="1569.5" cy="371.4" r="5.9" fill="#b4b4b4" stroke="#5e5e5e" stroke-width="0.9"/>
<circle cx="1580.1" cy="378.3" r="5.9" fill="#b4b4b4" stroke="#5e5e5e" stroke-width="0.9"/>
<circle cx="1589.7" cy="386.6" r="5.9" fill="#b4b4b4" stroke="#5e5e5e" stroke-width="0.9"/>
<circle cx="1499.3" cy="375.5" r="5.9" fill="#b4b4b4" stroke="#5e5e5e" stroke-width="0.9"/>
<circle cx="1521.8" cy="377.4" r="5.9" fill="#b4b4b4" stroke="#5e5e5e" stroke-width="0.9"/>
<circle cx="1512.6" cy="376.9" r="5.9" fill="#b4b4b4" stroke="#5e5e5e" stroke-width="0.9"/>
<circle cx="1508.5" cy="386.1" r="5.9" fill="#b4b4b4" stroke="#5e5e5e" stroke-width="0.9"/>
<circle cx="1510.8" cy="391.6" r="5.9" fill="#b4b4b4" stroke="#5e5e5e" stroke-width="0.9"/>
<circle cx="1540.1" cy="377.8" r="5.9" fill="#b4b4b4" stroke="#5e5e5e" stroke-width="0.9"/>
<circle cx="1538.8" cy="383.3" r="5.9" fill="#b4b4b4" stroke="#5e5e5e" stroke-width="0.9"/>
<circle cx="1535.1" cy="389.3" r="5.9" fill="#b4b4b4" stroke="#5e5e5e" stroke-width="0.9"/>
<circle cx="1557.1" cy="390.2" r="5.9" fill="#b4b4b4" stroke="#5e5e5e" stroke-width="0.9"/>
<circle cx="1552.5" cy="396.7" r="5.9" fill="#b4b4b4" stroke="#5e5e5e" stroke-width="0.9"/>
<circle cx="1493.3" cy="388.9" r="5.9" fill="#b4b4b4" stroke="#5e5e5e" stroke-width="0.9"/>
<circle cx="1486" cy="395.3" r="5.9" fill="#b4b4b4" stroke="#5e5e5e" stroke-width="0.9"/>
<circle cx="1348.8" cy="121.2" r="5.9" fill="#6498fc" stroke="#34466e" stroke-width="0.9"/>
<circle cx="1369.9" cy="136.2" r="5.9" fill="#6498fc" stroke="#34466e" stroke-width="0.9"/>
<circle cx="1385.9" cy="140.6" r="5.9" fill="#6498fc" stroke="#34466e" stroke-width="0.9"/>
<circle cx="1330.5" cy="157.8" r="5.9" fill="#6498fc" stroke="#34466e" stroke-width="0.9"/>
<circle cx="1358.4" cy="157.6" r="5.9" fill="#6498fc" stroke="#34466e" stroke-width="0.9"/>
<circle cx="1347.8" cy="180.3" r="5.9" fill="#6498fc" stroke="#34466e" stroke-width="0.9"/>
<circle cx="1334.6" cy="224.2" r="5.9" fill="#6498fc" stroke="#34466e" stroke-width="0.9"/>
<circle cx="1401.5" cy="214.3" r="5.9" fill="#6498fc" stroke="#34466e" stroke-width="0.9"/>
<circle cx="1526.6" cy="129.1" r="5.9" fill="#6498fc" stroke="#34466e" stroke-width="0.9"/>
<circle cx="1493.3" cy="139.7" r="5.9" fill="#6498fc" stroke="#34466e" stroke-width="0.9"/>
<circle cx="1489.6" cy="171.2" r="5.9" fill="#6498fc" stroke="#34466e" stroke-width="0.9"/>
<circle cx="1472.5" cy="209" r="5.9" fill="#6498fc" stroke="#34466e" stroke-width="0.9"/>
<circle cx="1519.3" cy="200.3" r="5.9" fill="#6498fc" stroke="#34466e" stroke-width="0.9"/>
<circle cx="1485.5" cy="225.9" r="5.9" fill="#6498fc" stroke="#34466e" stroke-width="0.9"/>
<circle cx="1457" cy="240" r="5.9" fill="#6498fc" stroke="#34466e" stroke-width="0.9"/>
<circle cx="1478.1" cy="239.2" r="5.9" fill="#6498fc" stroke="#34466e" stroke-width="0.9"/>
<circle cx="1446.6" cy="247.3" r="5.9" fill="#6498fc" stroke="#34466e" stroke-width="0.9"/>
<circle cx="1465.9" cy="255" r="5.9" fill="#6498fc" stroke="#34466e" stroke-width="0.9"/>
<circle cx="1513.8" cy="251.3" r="5.9" fill="#6498fc" stroke="#34466e" stroke-width="0.9"/>
<circle cx="1335.6" cy="260.9" r="5.9" fill="#6498fc" stroke="#34466e" stroke-width="0.9"/>
<circle cx="1345.1" cy="264.5" r="5.9" fill="#6498fc" stroke="#34466e" stroke-width="0.9"/>
<circle cx="1355" cy="262.1" r="5.9" fill="#6498fc" stroke="#34466e" stroke-width="0.9"/>
<circle cx="1327.6" cy="276.5" r="5.9" fill="#6498fc" stroke="#34466e" stroke-width="0.9"/>
<circle cx="1349.2" cy="275.7" r="5.9" fill="#6498fc" stroke="#34466e" stroke-width="0.9"/>
<circle cx="1351.6" cy="284" r="5.9" fill="#6498fc" stroke="#34466e" stroke-width="0.9"/>
<circle cx="1343.2" cy="328.2" r="5.9" fill="#6498fc" stroke="#34466e" stroke-width="0.9"/>
<circle cx="1370.4" cy="265" r="5.9" fill="#6498fc" stroke="#34466e" stroke-width="0.9"/>
<circle cx="1393.5" cy="267.7" r="5.9" fill="#6498fc" stroke="#34466e" stroke-width="0.9"/>
<circle cx="1409" cy="269.4" r="5.9" fill="#6498fc" stroke="#34466e" stroke-width="0.9"/>
<circle cx="1430.9" cy="273.3" r="5.9" fill="#6498fc" stroke="#34466e" stroke-width="0.9"/>
<circle cx="1448.9" cy="270.8" r="5.9" fill="#6498fc" stroke="#34466e" stroke-width="0.9"/>
<circle cx="1461.5" cy="268.1" r="5.9" fill="#6498fc" stroke="#34466e" stroke-width="0.9"/>
<circle cx="1476.1" cy="272.6" r="5.9" fill="#6498fc" stroke="#34466e" stroke-width="0.9"/>
<circle cx="1482.4" cy="282.3" r="5.9" fill="#6498fc" stroke="#34466e" stroke-width="0.9"/>
<circle cx="1402.2" cy="281.5" r="5.9" fill="#6498fc" stroke="#34466e" stroke-width="0.9"/>
<circle cx="1408.5" cy="283.3" r="5.9" fill="#6498fc" stroke="#34466e" stroke-width="0.9"/>
<circle cx="1436" cy="289.1" r="5.9" fill="#6498fc" stroke="#34466e" stroke-width="0.9"/>
<circle cx="1451" cy="288.8" r="5.9" fill="#6498fc" stroke="#34466e" stroke-width="0.9"/>
<circle cx="1379.4" cy="293" r="5.9" fill="#6498fc" stroke="#34466e" stroke-width="0.9"/>
<circle cx="1432.8" cy="298.5" r="5.9" fill="#6498fc" stroke="#34466e" stroke-width="0.9"/>
<circle cx="1410" cy="301.4" r="5.9" fill="#6498fc" stroke="#34466e" stroke-width="0.9"/>
<circle cx="1412.4" cy="307.3" r="5.9" fill="#6498fc" stroke="#34466e" stroke-width="0.9"/>
<circle cx="1418.7" cy="307.8" r="5.9" fill="#6498fc" stroke="#34466e" stroke-width="0.9"/>
<circle cx="1407.1" cy="313.1" r="5.9" fill="#6498fc" stroke="#34466e" stroke-width="0.9"/>
<circle cx="1445.5" cy="314.6" r="5.9" fill="#6498fc" stroke="#34466e" stroke-width="0.9"/>
<circle cx="1465.9" cy="307.3" r="5.9" fill="#6498fc" stroke="#34466e" stroke-width="0.9"/>
<circle cx="1470.3" cy="309.2" r="5.9" fill="#6498fc" stroke="#34466e" stroke-width="0.9"/>
<circle cx="1472.2" cy="317" r="5.9" fill="#6498fc" stroke="#34466e" stroke-width="0.9"/>
<circle cx="1474.1" cy="321.4" r="5.9" fill="#6498fc" stroke="#34466e" stroke-width="0.9"/>
<circle cx="1477.5" cy="326.2" r="5.9" fill="#6498fc" stroke="#34466e" stroke-width="0.9"/>
<circle cx="1491.6" cy="296.1" r="5.9" fill="#6498fc" stroke="#34466e" stroke-width="0.9"/>
<circle cx="1501.5" cy="291.6" r="5.9" fill="#6498fc" stroke="#34466e" stroke-width="0.9"/>
<circle cx="1484.8" cy="313.6" r="5.9" fill="#6498fc" stroke="#34466e" stroke-width="0.9"/>
<circle cx="1495.5" cy="313.6" r="5.9" fill="#6498fc" stroke="#34466e" stroke-width="0.9"/>
<circle cx="1419.6" cy="330.6" r="5.9" fill="#6498fc" stroke="#34466e" stroke-width="0.9"/>
<circle cx="1428.8" cy="325.5" r="5.9" fill="#6498fc" stroke="#34466e" stroke-width="0.9"/>
<circle cx="1494.5" cy="333.9" r="5.9" fill="#6498fc" stroke="#34466e" stroke-width="0.9"/>
<circle cx="1570.2" cy="278.2" r="5.9" fill="#6498fc" stroke="#34466e" stroke-width="0.9"/>
<circle cx="1510.3" cy="291" r="5.9" fill="#6498fc" stroke="#34466e" stroke-width="0.9"/>
<circle cx="1506.6" cy="298.4" r="5.9" fill="#6498fc" stroke="#34466e" stroke-width="0.9"/>
<circle cx="1544" cy="297.5" r="5.9" fill="#6498fc" stroke="#34466e" stroke-width="0.9"/>
<circle cx="1557.1" cy="299.3" r="5.9" fill="#6498fc" stroke="#34466e" stroke-width="0.9"/>
<circle cx="1540.1" cy="322.7" r="5.9" fill="#6498fc" stroke="#34466e" stroke-width="0.9"/>
<circle cx="1537.3" cy="331.2" r="5.9" fill="#6498fc" stroke="#34466e" stroke-width="0.9"/>
<circle cx="1567.9" cy="320" r="5.9" fill="#6498fc" stroke="#34466e" stroke-width="0.9"/>
<circle cx="1580.3" cy="334" r="5.9" fill="#6498fc" stroke="#34466e" stroke-width="0.9"/>
<circle cx="1433.1" cy="331.9" r="5.9" fill="#6498fc" stroke="#34466e" stroke-width="0.9"/>
<circle cx="1428" cy="337.4" r="5.9" fill="#6498fc" stroke="#34466e" stroke-width="0.9"/>
<circle cx="1452.4" cy="337" r="5.9" fill="#6498fc" stroke="#34466e" stroke-width="0.9"/>
<circle cx="1463.8" cy="338.8" r="5.9" fill="#6498fc" stroke="#34466e" stroke-width="0.9"/>
<circle cx="1484" cy="337.9" r="5.9" fill="#6498fc" stroke="#34466e" stroke-width="0.9"/>
<circle cx="1428.5" cy="350.3" r="5.9" fill="#6498fc" stroke="#34466e" stroke-width="0.9"/>
<circle cx="1449.1" cy="348.5" r="5.9" fill="#6498fc" stroke="#34466e" stroke-width="0.9"/>
<circle cx="1439.5" cy="355.3" r="5.9" fill="#6498fc" stroke="#34466e" stroke-width="0.9"/>
<circle cx="1447.8" cy="357.6" r="5.9" fill="#6498fc" stroke="#34466e" stroke-width="0.9"/>
<circle cx="1420.2" cy="359" r="5.9" fill="#6498fc" stroke="#34466e" stroke-width="0.9"/>
<circle cx="1429" cy="358.1" r="5.9" fill="#6498fc" stroke="#34466e" stroke-width="0.9"/>
<circle cx="1422.5" cy="365.4" r="5.9" fill="#6498fc" stroke="#34466e" stroke-width="0.9"/>
<circle cx="1465.2" cy="353.5" r="5.9" fill="#6498fc" stroke="#34466e" stroke-width="0.9"/>
<circle cx="1469.3" cy="351.7" r="5.9" fill="#6498fc" stroke="#34466e" stroke-width="0.9"/>
<circle cx="1475.3" cy="365" r="5.9" fill="#6498fc" stroke="#34466e" stroke-width="0.9"/>
<circle cx="1479.9" cy="365.4" r="5.9" fill="#6498fc" stroke="#34466e" stroke-width="0.9"/>
<circle cx="1491" cy="352.2" r="5.9" fill="#6498fc" stroke="#34466e" stroke-width="0.9"/>
<circle cx="1415.6" cy="375.5" r="5.9" fill="#6498fc" stroke="#34466e" stroke-width="0.9"/>
<circle cx="1429" cy="376.5" r="5.9" fill="#6498fc" stroke="#34466e" stroke-width="0.9"/>
<circle cx="1433.1" cy="374.6" r="5.9" fill="#6498fc" stroke="#34466e" stroke-width="0.9"/>
<circle cx="1443.6" cy="378.3" r="5.9" fill="#6498fc" stroke="#34466e" stroke-width="0.9"/>
<circle cx="1461.5" cy="382" r="5.9" fill="#6498fc" stroke="#34466e" stroke-width="0.9"/>
<circle cx="1473.9" cy="385.2" r="5.9" fill="#6498fc" stroke="#34466e" stroke-width="0.9"/>
<circle cx="1486.8" cy="390.2" r="5.9" fill="#6498fc" stroke="#34466e" stroke-width="0.9"/>
<circle cx="1543.3" cy="335.1" r="5.9" fill="#6498fc" stroke="#34466e" stroke-width="0.9"/>
<circle cx="1587.4" cy="339.7" r="5.9" fill="#6498fc" stroke="#34466e" stroke-width="0.9"/>
<circle cx="1514" cy="341.6" r="5.9" fill="#6498fc" stroke="#34466e" stroke-width="0.9"/>
<circle cx="1491.9" cy="346.6" r="5.9" fill="#6498fc" stroke="#34466e" stroke-width="0.9"/>
<circle cx="1511.2" cy="349.8" r="5.9" fill="#6498fc" stroke="#34466e" stroke-width="0.9"/>
<circle cx="1538.3" cy="351.2" r="5.9" fill="#6498fc" stroke="#34466e" stroke-width="0.9"/>
<circle cx="1549.8" cy="350.8" r="5.9" fill="#6498fc" stroke="#34466e" stroke-width="0.9"/>
<circle cx="1491.6" cy="359.5" r="5.9" fill="#6498fc" stroke="#34466e" stroke-width="0.9"/>
<circle cx="1502.5" cy="360.4" r="5.9" fill="#6498fc" stroke="#34466e" stroke-width="0.9"/>
<circle cx="1493.8" cy="366" r="5.9" fill="#6498fc" stroke="#34466e" stroke-width="0.9"/>
<circle cx="1552.5" cy="371.9" r="5.9" fill="#6498fc" stroke="#34466e" stroke-width="0.9"/>
<circle cx="1516.5" cy="382.9" r="5.9" fill="#6498fc" stroke="#34466e" stroke-width="0.9"/>
<path d="M106.3,871.2 L107.01,871 L108.44,870.6 L110.58,870 L113.42,869.2 L116.34,868.39 L119.33,867.58 L122.39,866.76 L125.51,865.94 L128.53,865.11 L131.44,864.29 L134.25,863.46 L136.95,862.64 L139.76,861.78 L142.67,860.89 L145.69,859.98 L148.81,859.02 L151.82,858.07 L154.73,857.11 L157.51,856.14 L160.19,855.16 L162.94,854.16 L165.78,853.12 L168.7,852.05 L171.7,850.95 L174.62,849.86 L177.46,848.77 L180.21,847.69 L182.89,846.61 L185.6,845.46 L188.35,844.22 L191.14,842.9 L193.96,841.5 L196.76,840.07 L199.52,838.62 L202.25,837.15 L204.95,835.65 L207.61,834.11 L210.22,832.54 L212.79,830.92 L215.31,829.27 L217.81,827.59 L220.27,825.88 L222.7,824.14 L225.1,822.36 L227.46,820.49 L229.77,818.53 L232.04,816.48 L234.26,814.33 L236.43,812.14 L238.54,809.93 L240.6,807.69 L242.6,805.41 L244.55,803.08 L246.45,800.69 L248.3,798.25 L250.1,795.75 L251.82,793.23 L253.46,790.69 L255.01,788.14 L256.49,785.56 L257.96,782.93 L259.42,780.24 L260.88,777.5 L262.33,774.7 L263.95,771.19 L265.75,766.96 L267.73,762.03 L269.88,756.37 L272.03,750.66 L274.19,744.89 L276.36,739.05 L278.54,733.15 L280.39,728.07 L281.91,723.81 L283.11,720.36 L283.99,717.74 L284.86,715.01 L285.74,712.17 L286.61,709.22 L287.49,706.18 L288.42,703.18 L289.41,700.24 L290.45,697.36 L291.55,694.54 L292.59,691.66 L293.56,688.72 L294.47,685.72 L295.32,682.68 L296.24,679.73 L297.21,676.89 L298.25,674.16 L299.35,671.54 L300.45,668.81 L301.55,665.97 L302.65,663.02 L303.75,659.98 L304.96,657.03 L306.27,654.19 L307.69,651.46 L309.21,648.84 L310.74,646.21 L312.26,643.59 L313.79,640.96 L315.31,638.34 L317,635.85 L318.85,633.5 L320.86,631.29 L323.04,629.21 L325.38,627.36 L327.89,625.72 L330.57,624.3 L333.43,623.1 L335.94,622.15 L338.13,621.45 L339.99,621 L341.51,620.8 L342.98,620.7 L344.39,620.7 L345.75,620.8 L347.05,621 L348.79,621.32 L350.96,621.76 L353.58,622.31 L356.62,622.99 L359.57,623.82 L362.41,624.81 L365.14,625.95 L367.76,627.25 L370.39,628.66 L373.01,630.19 L375.64,631.83 L378.26,633.58 L380.88,635.33 L383.49,637.08 L386.1,638.83 L388.7,640.58 L391.2,642.43 L393.6,644.39 L395.9,646.46 L398.1,648.64 L400.29,650.76 L402.48,652.82 L404.66,654.82 L406.84,656.77 L409.01,658.84 L411.19,661.01 L413.36,663.3 L415.54,665.7 L417.61,668.05 L419.57,670.35 L421.43,672.6 L423.18,674.8 L424.98,677.1 L426.82,679.5 L428.73,682 L430.68,684.6 L432.58,687.15 L434.43,689.65 L436.23,692.1 L437.98,694.5 L439.67,696.96 L441.31,699.47 L442.89,702.04 L444.41,704.66 L445.94,707.29 L447.46,709.91 L448.99,712.54 L450.51,715.16 L451.99,717.84 L453.41,720.56 L454.79,723.34 L456.11,726.16 L457.38,728.94 L458.58,731.66 L459.71,734.34 L460.79,736.96 L461.81,739.69 L462.79,742.53 L463.71,745.48 L464.59,748.52 L465.41,751.53 L466.19,754.48 L466.91,757.38 L467.59,760.22 L468.14,763.17 L468.58,766.23 L468.9,769.38 L469.1,772.62 L469.29,775.76 L469.46,778.79 L469.62,781.7 L469.78,784.5 L469.78,787.43 L469.62,790.49 L469.33,793.69 L468.87,797.01 L468.36,800.19 L467.77,803.21 L467.11,806.09 L466.39,808.81 L465.56,811.64 L464.64,814.56 L463.61,817.59 L462.49,820.71 L461.33,823.69 L460.12,826.53 L458.89,829.23 L457.61,831.77 L456.26,834.42 L454.84,837.16 L453.34,839.99 L451.76,842.91 L450.14,845.64 L448.48,848.18 L446.77,850.52 L445.02,852.67 L443.21,854.92 L441.32,857.26 L439.36,859.69 L437.34,862.21 L435.3,864.64 L433.25,866.98 L431.19,869.22 L429.11,871.38 L427.02,873.53 L424.91,875.67 L422.78,877.83 L420.62,879.98 L418.43,882.08 L416.19,884.13 L413.91,886.12 L411.59,888.07 L409.23,889.99 L406.83,891.88 L404.39,893.74 L401.91,895.56 L399.45,897.35 L397,899.1 L394.56,900.81 L392.14,902.49 L389.67,904.14 L387.16,905.76 L384.6,907.36 L382,908.94 L379.39,910.51 L376.76,912.07 L374.12,913.62 L371.47,915.18 L368.8,916.71 L366.1,918.24 L363.38,919.75 L360.62,921.25 L357.88,922.68 L355.14,924.04 L352.41,925.34 L349.69,926.56 L346.86,927.77 L343.94,928.97 L340.91,930.16 L337.79,931.34 L334.83,932.49 L332.02,933.61 L329.39,934.71 L326.91,935.79 L324.29,936.83 L321.53,937.84 L318.62,938.82 L315.58,939.78 L312.59,940.69 L309.66,941.56 L306.8,942.4 L304,943.2 L301.11,943.97 L298.14,944.71 L295.07,945.41 L291.93,946.09 L288.86,946.74 L285.89,947.38 L283,948 L280.2,948.6 L277.31,949.14 L274.34,949.63 L271.27,950.06 L268.12,950.44 L264.99,950.77 L261.86,951.08 L258.75,951.34 L255.65,951.56 L252.58,951.76 L249.54,951.94 L246.54,952.09 L243.56,952.21 L240.59,952.32 L237.61,952.41 L234.64,952.48 L231.66,952.52 L229.01,952.56 L226.69,952.57 L224.69,952.56 L223.01,952.54 L221.76,952.52 L220.92,952.51 L220.5,952.5" fill="none" stroke="#000" stroke-width="1.5" stroke-dasharray="11.8 12.585"/>
<path d="M667.8,927.2 L668.04,926.52 L668.53,925.16 L669.26,923.11 L670.24,920.39 L671.16,917.56 L672.04,914.63 L672.86,911.59 L673.64,908.46 L674.47,905.42 L675.35,902.48 L676.28,899.64 L677.27,896.91 L678.21,894.07 L679.09,891.14 L679.93,888.11 L680.72,884.99 L681.55,881.96 L682.43,879.04 L683.36,876.21 L684.34,873.49 L685.26,870.66 L686.14,867.74 L686.96,864.71 L687.74,861.59 L688.56,858.56 L689.44,855.62 L690.36,852.77 L691.34,850.02 L692.28,847.18 L693.2,844.24 L694.09,841.21 L694.96,838.09 L695.86,835.06 L696.79,832.14 L697.77,829.31 L698.78,826.59 L699.76,823.81 L700.69,820.99 L701.59,818.11 L702.46,815.19 L703.35,812.31 L704.27,809.47 L705.23,806.67 L706.22,803.92 L707.2,801.08 L708.18,798.14 L709.16,795.11 L710.14,791.99 L711.13,788.96 L712.14,786.04 L713.18,783.21 L714.22,780.49 L715.28,777.71 L716.34,774.87 L717.41,771.98 L718.49,769.02 L719.56,766.12 L720.64,763.28 L721.71,760.48 L722.79,757.73 L723.84,754.93 L724.88,752.09 L725.9,749.21 L726.9,746.29 L727.94,743.39 L729.03,740.53 L730.16,737.7 L731.34,734.9 L732.48,732.09 L733.59,729.26 L734.68,726.42 L735.72,723.58 L736.83,720.72 L737.99,717.88 L739.21,715.02 L740.49,712.17 L741.74,709.34 L742.96,706.51 L744.16,703.7 L745.34,700.9 L746.53,698.1 L747.74,695.3 L748.98,692.5 L750.23,689.7 L751.48,686.92 L752.73,684.16 L753.98,681.41 L755.23,678.69 L756.51,675.96 L757.84,673.22 L759.2,670.48 L760.6,667.73 L761.98,664.98 L763.34,662.24 L764.69,659.51 L766.01,656.79 L767.38,654.06 L768.79,651.34 L770.25,648.61 L771.75,645.89 L773.24,643.2 L774.73,640.55 L776.21,637.94 L777.69,635.36 L779.22,632.81 L780.81,630.27 L782.45,627.75 L784.15,625.25 L785.89,622.71 L787.68,620.14 L789.51,617.53 L791.39,614.88 L793.27,612.33 L795.16,609.89 L797.05,607.56 L798.95,605.34 L800.86,603.08 L802.77,600.77 L804.69,598.44 L806.61,596.06 L808.63,593.81 L810.72,591.69 L812.91,589.69 L815.19,587.81 L817.58,586 L820.09,584.25 L822.73,582.56 L825.48,580.94 L828.22,579.44 L830.96,578.08 L833.69,576.85 L836.41,575.75 L838.86,574.88 L841.04,574.24 L842.94,573.84 L844.56,573.66 L846.17,573.57 L847.78,573.57 L849.36,573.66 L850.94,573.84 L852.8,574.24 L854.95,574.88 L857.39,575.75 L860.11,576.85 L862.79,578.13 L865.43,579.59 L868.03,581.24 L870.57,583.06 L873.01,584.96 L875.34,586.92 L877.55,588.95 L879.65,591.05 L881.67,593.28 L883.61,595.62 L885.46,598.1 L887.24,600.7 L888.99,603.2 L890.71,605.6 L892.41,607.9 L894.09,610.1 L895.77,612.53 L897.46,615.19 L899.15,618.09 L900.85,621.21 L902.49,624.1 L904.06,626.75 L905.57,629.16 L907.03,631.34 L908.48,633.75 L909.93,636.4 L911.38,639.29 L912.82,642.41 L914.21,645.36 L915.54,648.14 L916.8,650.74 L918,653.16 L919.2,655.76 L920.4,658.54 L921.6,661.49 L922.8,664.61 L924,667.56 L925.2,670.34 L926.4,672.94 L927.6,675.36 L928.81,677.96 L930.02,680.74 L931.24,683.69 L932.46,686.81 L933.68,689.82 L934.89,692.71 L936.1,695.47 L937.3,698.13 L938.44,700.84 L939.51,703.61 L940.52,706.45 L941.48,709.35 L942.49,712.19 L943.58,714.96 L944.74,717.67 L945.96,720.33 L947.12,723.09 L948.21,725.98 L949.22,728.99 L950.18,732.11 L951.19,735.12 L952.26,738.01 L953.4,740.77 L954.6,743.42 L955.74,746.2 L956.83,749.1 L957.86,752.12 L958.84,755.28 L959.8,758.26 L960.75,761.09 L961.69,763.75 L962.61,766.25 L963.59,768.99 L964.61,771.98 L965.69,775.21 L966.81,778.69 L967.83,781.98 L968.74,785.09 L969.55,788.02 L970.25,790.77 L970.94,793.64 L971.63,796.61 L972.31,799.7 L972.99,802.9 L973.61,805.99 L974.19,808.96 L974.71,811.83 L975.19,814.58 L975.63,817.44 L976.04,820.43 L976.42,823.54 L976.77,826.76 L977.04,829.87 L977.21,832.86 L977.3,835.73 L977.3,838.48 L977.27,841.34 L977.21,844.33 L977.11,847.44 L976.99,850.66 L976.76,853.77 L976.42,856.76 L975.97,859.62 L975.43,862.38 L974.74,865.24 L973.93,868.21 L972.99,871.3 L971.91,874.5 L970.76,877.47 L969.54,880.22 L968.24,882.75 L966.86,885.05 L965.32,887.46 L963.61,889.99 L961.72,892.62 L959.68,895.38 L957.62,897.9 L955.56,900.2 L953.49,902.28 L951.41,904.12 L949.22,905.97 L946.92,907.81 L944.51,909.64 L941.99,911.46 L939.46,913.23 L936.94,914.94 L934.41,916.6 L931.89,918.2 L929.31,919.74 L926.67,921.23 L923.98,922.66 L921.23,924.04 L918.48,925.42 L915.73,926.81 L912.98,928.2 L910.23,929.6 L907.48,930.93 L904.73,932.19 L901.98,933.39 L899.23,934.51 L896.48,935.59 L893.73,936.61 L890.98,937.59 L888.23,938.51 L885.41,939.44 L882.54,940.36 L879.6,941.29 L876.6,942.21 L873.61,943.14 L870.62,944.06 L867.64,944.99 L864.66,945.91 L861.68,946.75 L858.68,947.5 L855.66,948.16 L852.64,948.74 L849.66,949.35 L846.74,950 L843.86,950.69 L841.04,951.41 L838.12,952.11 L835.11,952.77 L832,953.4 L828.8,954 L825.68,954.57 L822.64,955.12 L819.69,955.65 L816.81,956.15 L814.25,956.57 L812,956.91 L810.06,957.16 L808.44,957.34 L807.22,957.47 L806.41,957.56 L806,957.6" fill="none" stroke="#000" stroke-width="1.5" stroke-dasharray="11.8 12.650"/>
<path d="M1328.3,689.8 L1329.04,689.8 L1330.51,689.8 L1332.72,689.8 L1335.67,689.8 L1338.66,689.76 L1341.67,689.69 L1344.71,689.58 L1347.79,689.42 L1350.86,689.29 L1353.92,689.16 L1356.98,689.05 L1360.02,688.95 L1363.08,688.88 L1366.14,688.82 L1369.21,688.8 L1372.29,688.8 L1375.3,688.77 L1378.25,688.71 L1381.14,688.61 L1383.96,688.49 L1386.9,688.39 L1389.95,688.33 L1393.11,688.3 L1396.39,688.3 L1399.55,688.3 L1402.6,688.3 L1405.54,688.3 L1408.36,688.3 L1411.31,688.31 L1414.37,688.34 L1417.55,688.38 L1420.85,688.43 L1424.03,688.52 L1427.09,688.66 L1430.04,688.84 L1432.86,689.06 L1435.75,689.31 L1438.7,689.59 L1441.71,689.89 L1444.79,690.21 L1447.86,690.58 L1450.92,690.98 L1453.97,691.41 L1457.03,691.89 L1460.07,692.42 L1463.12,693.01 L1466.17,693.65 L1469.22,694.35 L1472.22,695.07 L1475.16,695.82 L1478.04,696.6 L1480.86,697.4 L1483.75,698.28 L1486.7,699.23 L1489.71,700.25 L1492.79,701.35 L1495.74,702.47 L1498.56,703.61 L1501.26,704.76 L1503.84,705.94 L1506.47,707.17 L1509.18,708.46 L1511.94,709.8 L1514.76,711.2 L1517.53,712.62 L1520.24,714.07 L1522.9,715.55 L1525.5,717.05 L1528.09,718.6 L1530.68,720.2 L1533.26,721.85 L1535.84,723.55 L1538.36,725.26 L1540.84,726.99 L1543.26,728.73 L1545.64,730.48 L1548.01,732.32 L1550.37,734.26 L1552.73,736.29 L1555.07,738.41 L1557.4,740.5 L1559.7,742.55 L1561.97,744.56 L1564.22,746.54 L1566.41,748.58 L1568.52,750.69 L1570.56,752.88 L1572.54,755.12 L1574.51,757.4 L1576.49,759.7 L1578.46,762.03 L1580.44,764.37 L1582.34,766.79 L1584.18,769.26 L1585.95,771.8 L1587.65,774.4 L1589.31,776.99 L1590.92,779.58 L1592.49,782.16 L1594.01,784.74 L1595.39,787.38 L1596.61,790.08 L1597.69,792.84 L1598.61,795.66 L1599.48,798.49 L1600.29,801.31 L1601.05,804.14 L1601.75,806.96 L1602.27,809.91 L1602.62,812.99 L1602.8,816.19 L1602.8,819.51 L1602.69,822.67 L1602.46,825.66 L1602.12,828.47 L1601.68,831.13 L1601.1,833.93 L1600.4,836.89 L1599.57,840.01 L1598.63,843.29 L1597.62,846.45 L1596.56,849.5 L1595.44,852.44 L1594.26,855.26 L1593.02,858.03 L1591.73,860.74 L1590.36,863.4 L1588.94,866 L1587.46,868.6 L1585.92,871.2 L1584.33,873.8 L1582.67,876.4 L1580.97,878.99 L1579.21,881.58 L1577.39,884.16 L1575.51,886.74 L1573.58,889.2 L1571.58,891.55 L1569.51,893.79 L1567.39,895.91 L1565.27,898.04 L1563.16,900.16 L1561.05,902.29 L1558.95,904.41 L1556.78,906.53 L1554.54,908.64 L1552.24,910.75 L1549.86,912.85 L1547.56,914.9 L1545.32,916.9 L1543.15,918.85 L1541.05,920.75 L1538.83,922.64 L1536.48,924.53 L1534,926.41 L1531.4,928.29 L1528.81,930.11 L1526.22,931.87 L1523.64,933.58 L1521.06,935.23 L1518.48,936.82 L1515.89,938.36 L1513.3,939.84 L1510.7,941.26 L1508.04,942.68 L1505.33,944.09 L1502.56,945.5 L1499.74,946.9 L1496.91,948.19 L1494.09,949.36 L1491.26,950.43 L1488.44,951.38 L1485.56,952.26 L1482.62,953.09 L1479.63,953.85 L1476.57,954.55 L1473.58,955.25 L1470.64,955.95 L1467.76,956.65 L1464.94,957.35 L1462.05,957.96 L1459.1,958.47 L1456.09,958.89 L1453.01,959.21 L1450,959.49 L1447.05,959.73 L1444.16,959.92 L1441.34,960.08 L1438.39,960.21 L1435.33,960.34 L1432.15,960.45 L1428.85,960.55 L1425.67,960.62 L1422.61,960.68 L1419.66,960.7 L1416.84,960.7 L1413.9,960.68 L1410.85,960.62 L1407.69,960.55 L1404.41,960.45 L1401.19,960.35 L1398.01,960.25 L1394.89,960.15 L1391.81,960.05 L1388.74,959.95 L1385.68,959.85 L1382.63,959.75 L1379.57,959.65 L1376.58,959.57 L1373.64,959.51 L1370.76,959.46 L1367.94,959.44 L1364.99,959.39 L1361.93,959.33 L1358.75,959.25 L1355.45,959.15 L1352.38,959.06 L1349.54,958.99 L1346.94,958.93 L1344.56,958.88 L1342.78,958.84 L1341.59,958.81 L1341,958.8" fill="none" stroke="#000" stroke-width="1.5" stroke-dasharray="11.8 12.582"/>
<polygon points="202.2,950.7 221.1,940.8 220.2,961.7" fill="#000"/>
<polygon points="787.6,963.8 801.3,947.8 810.3,966.6" fill="#000"/>
<polygon points="1323.2,958 1341.1,948.6 1341.1,968.8" fill="#000"/>
<circle cx="353.1" cy="682" r="5.9" fill="#ff0000" stroke="#6a0000" stroke-width="0.9"/>
<circle cx="378.2" cy="706.7" r="5.9" fill="#ff0000" stroke="#6a0000" stroke-width="0.9"/>
<circle cx="344.9" cy="723.6" r="5.9" fill="#ff0000" stroke="#6a0000" stroke-width="0.9"/>
<circle cx="363.2" cy="749.7" r="5.9" fill="#ff0000" stroke="#6a0000" stroke-width="0.9"/>
<circle cx="376.8" cy="765.8" r="5.9" fill="#ff0000" stroke="#6a0000" stroke-width="0.9"/>
<circle cx="291.9" cy="776.9" r="5.9" fill="#ff0000" stroke="#6a0000" stroke-width="0.9"/>
<circle cx="418.1" cy="777.1" r="5.9" fill="#ff0000" stroke="#6a0000" stroke-width="0.9"/>
<circle cx="396.2" cy="792.1" r="5.9" fill="#ff0000" stroke="#6a0000" stroke-width="0.9"/>
<circle cx="377.9" cy="819.8" r="5.9" fill="#ff0000" stroke="#6a0000" stroke-width="0.9"/>
<circle cx="351.1" cy="841.5" r="5.9" fill="#ff0000" stroke="#6a0000" stroke-width="0.9"/>
<circle cx="258.3" cy="857.6" r="5.9" fill="#ff0000" stroke="#6a0000" stroke-width="0.9"/>
<circle cx="290.1" cy="881" r="5.9" fill="#ff0000" stroke="#6a0000" stroke-width="0.9"/>
<circle cx="271.7" cy="887.3" r="5.9" fill="#ff0000" stroke="#6a0000" stroke-width="0.9"/>
<circle cx="297.4" cy="895.4" r="5.9" fill="#ff0000" stroke="#6a0000" stroke-width="0.9"/>
<circle cx="295.3" cy="890" r="5.9" fill="#ff0000" stroke="#6a0000" stroke-width="0.9"/>
<circle cx="275.1" cy="896.5" r="5.9" fill="#ff0000" stroke="#6a0000" stroke-width="0.9"/>
<circle cx="254.2" cy="898.5" r="5.9" fill="#ff0000" stroke="#6a0000" stroke-width="0.9"/>
<circle cx="259.2" cy="899.9" r="5.9" fill="#ff0000" stroke="#6a0000" stroke-width="0.9"/>
<circle cx="249" cy="903.8" r="5.9" fill="#ff0000" stroke="#6a0000" stroke-width="0.9"/>
<circle cx="269.7" cy="903.3" r="5.9" fill="#ff0000" stroke="#6a0000" stroke-width="0.9"/>
<circle cx="313.3" cy="912.1" r="5.9" fill="#ff0000" stroke="#6a0000" stroke-width="0.9"/>
<circle cx="201.4" cy="893.9" r="5.9" fill="#ff0000" stroke="#6a0000" stroke-width="0.9"/>
<circle cx="118.2" cy="899.1" r="5.9" fill="#ff0000" stroke="#6a0000" stroke-width="0.9"/>
<circle cx="841.1" cy="587.7" r="5.9" fill="#ff0000" stroke="#6a0000" stroke-width="0.9"/>
<circle cx="925.1" cy="773.8" r="5.9" fill="#ff0000" stroke="#6a0000" stroke-width="0.9"/>
<circle cx="925" cy="833.8" r="5.9" fill="#ff0000" stroke="#6a0000" stroke-width="0.9"/>
<circle cx="937.3" cy="838.6" r="5.9" fill="#ff0000" stroke="#6a0000" stroke-width="0.9"/>
<circle cx="907.9" cy="878.8" r="5.9" fill="#ff0000" stroke="#6a0000" stroke-width="0.9"/>
<circle cx="903.7" cy="890.9" r="5.9" fill="#ff0000" stroke="#6a0000" stroke-width="0.9"/>
<circle cx="899.3" cy="885.8" r="5.9" fill="#ff0000" stroke="#6a0000" stroke-width="0.9"/>
<circle cx="884.4" cy="911.6" r="5.9" fill="#ff0000" stroke="#6a0000" stroke-width="0.9"/>
<circle cx="869" cy="930.4" r="5.9" fill="#ff0000" stroke="#6a0000" stroke-width="0.9"/>
<circle cx="856.9" cy="934.4" r="5.9" fill="#ff0000" stroke="#6a0000" stroke-width="0.9"/>
<circle cx="739.8" cy="931.3" r="5.9" fill="#ff0000" stroke="#6a0000" stroke-width="0.9"/>
<circle cx="692.2" cy="954.9" r="5.9" fill="#ff0000" stroke="#6a0000" stroke-width="0.9"/>
<circle cx="683.9" cy="963.2" r="5.9" fill="#ff0000" stroke="#6a0000" stroke-width="0.9"/>
<circle cx="683.7" cy="961.2" r="5.9" fill="#ff0000" stroke="#6a0000" stroke-width="0.9"/>
<circle cx="1337.7" cy="732.5" r="5.9" fill="#ff0000" stroke="#6a0000" stroke-width="0.9"/>
<circle cx="1380.6" cy="734" r="5.9" fill="#ff0000" stroke="#6a0000" stroke-width="0.9"/>
<circle cx="1451.2" cy="739.3" r="5.9" fill="#ff0000" stroke="#6a0000" stroke-width="0.9"/>
<circle cx="1527.5" cy="767.4" r="5.9" fill="#ff0000" stroke="#6a0000" stroke-width="0.9"/>
<circle cx="1561.4" cy="855.4" r="5.9" fill="#ff0000" stroke="#6a0000" stroke-width="0.9"/>
<circle cx="1522.4" cy="888.2" r="5.9" fill="#ff0000" stroke="#6a0000" stroke-width="0.9"/>
<circle cx="1488.2" cy="897.8" r="5.9" fill="#ff0000" stroke="#6a0000" stroke-width="0.9"/>
<circle cx="1449.4" cy="900" r="5.9" fill="#ff0000" stroke="#6a0000" stroke-width="0.9"/>
<circle cx="1400.4" cy="900" r="5.9" fill="#ff0000" stroke="#6a0000" stroke-width="0.9"/>
<circle cx="1428.3" cy="891.2" r="5.9" fill="#ff0000" stroke="#6a0000" stroke-width="0.9"/>
<circle cx="1435.8" cy="907" r="5.9" fill="#ff0000" stroke="#6a0000" stroke-width="0.9"/>
<circle cx="1432.8" cy="899.1" r="5.9" fill="#ff0000" stroke="#6a0000" stroke-width="0.9"/>
<circle cx="1423" cy="903.8" r="5.9" fill="#ff0000" stroke="#6a0000" stroke-width="0.9"/>
<circle cx="1414" cy="915.1" r="5.9" fill="#ff0000" stroke="#6a0000" stroke-width="0.9"/>
<circle cx="1466.7" cy="916" r="5.9" fill="#ff0000" stroke="#6a0000" stroke-width="0.9"/>
<text x="91.2" y="52.75" letter-spacing="-0.1">(a) C1-normal flow</text>
<text x="652.3" y="50.5" letter-spacing="-0.1">(b) L1-normal flow</text>
<text x="1214.8" y="50.8" letter-spacing="-0.1">(c) B1-normal flow</text>
<text x="91.5" y="607.25" letter-spacing="-0.1">(d) C1-typhoon</text>
<text x="652.5" y="605.95" letter-spacing="-0.1">(e) L1-typhoon</text>
<text x="1214.8" y="605.55" letter-spacing="-0.1">(f) B1-typhoon</text>
</svg>
</body></html>
